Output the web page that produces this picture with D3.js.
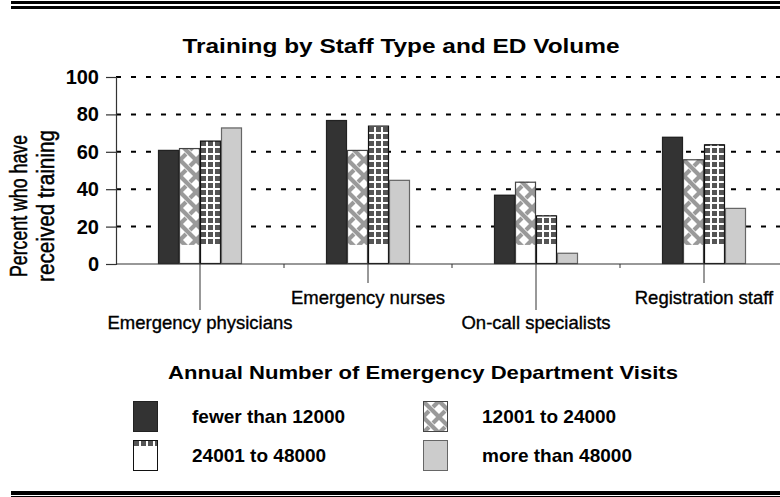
<!DOCTYPE html>
<html>
<head>
<meta charset="utf-8">
<script src="https://cdn.jsdelivr.net/npm/d3@7"></script>
<style>
  body { margin: 0; background: #fff; }
  svg { display: block; font-family: "Liberation Sans", Arial, sans-serif; }
</style>
</head>
<body>
<div id="chart"></div>
<script>
// categories and series
var staffTypes = ["Emergency physicians", "Emergency nurses", "On-call specialists", "Registration staff"];
var volumeGroups = ["fewer than 12000", "12001 to 24000", "24001 to 48000", "more than 48000"];

// percent who have received training, one array per volume group
var fewerThan12000 = [61, 77, 37, 68];
var from12001to24000 = [62, 61, 44, 56];
var from24001to48000 = [66, 74, 26, 64];
var moreThan48000 = [73, 45, 6, 30];

var yTicks = [0, 20, 40, 60, 80, 100];

var seriesValues = [fewerThan12000, from12001to24000, from24001to48000, moreThan48000];

var width = 780, height = 497;

var svg = d3.select("#chart").append("svg")
  .attr("width", width)
  .attr("height", height);

// patterns
var defs = svg.append("defs");

var weave = defs.append("pattern")
  .attr("id", "weave")
  .attr("patternUnits", "userSpaceOnUse")
  .attr("width", 16).attr("height", 16);
weave.append("rect").attr("width", 16).attr("height", 16).attr("fill", "#fff");
weave.append("path")
  .attr("d", "M-2,-2 L18,18 M16,0 L10,6 M6,10 L0,16 M18,14 L14,18 M-2,2 L2,-2")
  .attr("stroke", "#9a9a9a").attr("stroke-width", 4.2).attr("fill", "none");

var grid = defs.append("pattern")
  .attr("id", "gridfill")
  .attr("patternUnits", "userSpaceOnUse")
  .attr("width", 7).attr("height", 7);
grid.append("rect").attr("width", 7).attr("height", 7).attr("fill", "#fff");
grid.append("rect").attr("x", 1).attr("y", 1).attr("width", 5).attr("height", 5).attr("fill", "#555");

var fills = ["#333333", "url(#weave)", "url(#gridfill)", "#cccccc"];
var strokes = ["#222", "#444", "#111", "#666"];

// double rules at top and bottom
svg.append("rect").attr("x", 11).attr("y", 1).attr("width", 769).attr("height", 3).attr("fill", "#000");
svg.append("rect").attr("x", 11).attr("y", 6).attr("width", 769).attr("height", 3).attr("fill", "#000");
svg.append("rect").attr("x", 11).attr("y", 491).attr("width", 769).attr("height", 4).attr("fill", "#000");
svg.append("rect").attr("x", 11).attr("y", 496).attr("width", 769).attr("height", 1).attr("fill", "#000");

// title
svg.append("text")
  .attr("x", 401).attr("y", 53)
  .attr("text-anchor", "middle")
  .style("font-size", "20px").style("font-weight", "bold")
  .attr("textLength", 437).attr("lengthAdjust", "spacingAndGlyphs")
  .text("Training by Staff Type and ED Volume");

var plotLeft = 116, plotRight = 788, plotTop = 77, plotBottom = 264;

var y = d3.scaleLinear().domain([0, 100]).range([plotBottom, plotTop]);
var x0 = d3.scaleBand().domain(staffTypes).range([plotLeft, plotRight]);
var x1 = d3.scaleBand().domain(volumeGroups)
  .range([x0.bandwidth() / 4, x0.bandwidth() * 3 / 4]);

// dashed gridlines
svg.append("g")
  .selectAll("line")
  .data(yTicks.filter(function (d) { return d > 0; }))
  .enter().append("line")
  .attr("x1", plotLeft).attr("x2", width)
  .attr("y1", function (d) { return y(d); })
  .attr("y2", function (d) { return y(d); })
  .attr("stroke", "#000").attr("stroke-width", 2)
  .attr("stroke-dasharray", "5,10");

// bars
var groups = svg.append("g")
  .selectAll("g")
  .data(staffTypes)
  .enter().append("g")
  .attr("transform", function (d) { return "translate(" + x0(d) + ",0)"; });

groups.selectAll("g.bar")
  .data(function (d, i) {
    return volumeGroups.map(function (v, j) {
      return { cat: d, key: v, idx: j, value: seriesValues[j][i] };
    });
  })
  .enter().append("g")
  .attr("class", "bar")
  .each(function (d) {
    var g = d3.select(this);
    var bx = x1(d.key), bw = x1.bandwidth();
    var patterned = d.idx === 1 || d.idx === 2;
    g.append("rect")
      .attr("x", bx).attr("y", y(d.value))
      .attr("width", bw).attr("height", y(0) - y(d.value))
      .attr("fill", patterned ? "#fff" : fills[d.idx]);
    // patterned bars only carry the fill down to about 10%
    if (patterned) {
      g.append("rect")
        .attr("x", bx).attr("y", y(d.value))
        .attr("width", bw).attr("height", Math.max(0, y(10.2) - y(d.value)))
        .attr("fill", fills[d.idx]);
    }
    g.append("rect")
      .attr("x", bx + 0.5).attr("y", y(d.value) + 0.5)
      .attr("width", bw - 1).attr("height", y(0) - y(d.value) - 1)
      .attr("fill", "none").attr("stroke", strokes[d.idx]).attr("stroke-width", 1.2);
  });

// y axis
var yAxis = svg.append("g")
  .attr("transform", "translate(" + plotLeft + ",0)")
  .call(d3.axisLeft(y).tickValues(yTicks).tickSize(10).tickPadding(7));
yAxis.select(".domain").attr("stroke", "#333").attr("stroke-width", 1.2);
yAxis.selectAll(".tick line").attr("stroke", "#333").attr("stroke-width", 1.2);
yAxis.selectAll("text")
  .style("font-size", "20px").style("font-weight", "bold")
  .attr("font-family", "'Liberation Sans', Arial, sans-serif")
  .attr("fill", "#000");

// x axis line with band ticks
svg.append("line")
  .attr("x1", plotLeft).attr("x2", width)
  .attr("y1", plotBottom).attr("y2", plotBottom)
  .attr("stroke", "#333").attr("stroke-width", 1.2);
svg.append("g")
  .selectAll("line")
  .data(staffTypes.slice(1))
  .enter().append("line")
  .attr("x1", function (d) { return x0(d); })
  .attr("x2", function (d) { return x0(d); })
  .attr("y1", plotBottom).attr("y2", plotBottom + 4)
  .attr("stroke", "#333");

// staggered category labels with leader lines
var labelG = svg.append("g")
  .selectAll("g")
  .data(staffTypes)
  .enter().append("g");
labelG.append("line")
  .attr("x1", function (d) { return x0(d) + x0.bandwidth() / 2; })
  .attr("x2", function (d) { return x0(d) + x0.bandwidth() / 2; })
  .attr("y1", plotBottom)
  .attr("y2", function (d, i) { return i % 2 === 0 ? 310 : 283; })
  .attr("stroke", "#333").attr("stroke-width", 1);
labelG.append("text")
  .attr("x", function (d) { return x0(d) + x0.bandwidth() / 2; })
  .attr("y", function (d, i) { return i % 2 === 0 ? 329 : 304; })
  .attr("text-anchor", "middle")
  .style("font-size", "18.5px")
  .attr("stroke", "#000").attr("stroke-width", 0.35)
  .text(function (d) { return d; });

// y axis title
var yTitle = svg.append("text")
  .attr("transform", "translate(0,206) rotate(-90)")
  .attr("text-anchor", "middle")
  .style("font-size", "23px")
  .attr("stroke", "#000").attr("stroke-width", 0.5);
yTitle.append("tspan").attr("x", 0).attr("y", 27)
  .attr("textLength", 142).attr("lengthAdjust", "spacingAndGlyphs").text("Percent who have");
yTitle.append("tspan").attr("x", 0).attr("y", 54)
  .attr("textLength", 152).attr("lengthAdjust", "spacingAndGlyphs").text("received training");

// legend
svg.append("text")
  .attr("x", 423).attr("y", 379)
  .attr("text-anchor", "middle")
  .style("font-size", "19px").style("font-weight", "bold")
  .attr("textLength", 510).attr("lengthAdjust", "spacingAndGlyphs")
  .text("Annual Number of Emergency Department Visits");

var legendPos = [[133, 401], [423, 401], [133, 440], [423, 440]];
var legend = svg.append("g")
  .selectAll("g")
  .data(volumeGroups)
  .enter().append("g")
  .attr("transform", function (d, i) { return "translate(" + legendPos[i][0] + "," + legendPos[i][1] + ")"; });
legend.append("rect")
  .attr("width", 25).attr("height", 31)
  .attr("fill", function (d, i) { return i === 2 ? "#fff" : fills[i]; });
// the grid swatch only shows a thin strip of its pattern at the top
legend.filter(function (d, i) { return i === 2; })
  .append("rect")
  .attr("width", 25).attr("height", 7)
  .attr("fill", fills[2]);
legend.append("rect")
  .attr("x", 0.5).attr("y", 0.5)
  .attr("width", 24).attr("height", 30)
  .attr("fill", "none")
  .attr("stroke", function (d, i) { return strokes[i]; })
  .attr("stroke-width", 1);
legend.append("text")
  .attr("x", 59).attr("y", 22)
  .style("font-size", "19px").style("font-weight", "bold")
  .text(function (d) { return d; });
</script>
</body>
</html>
